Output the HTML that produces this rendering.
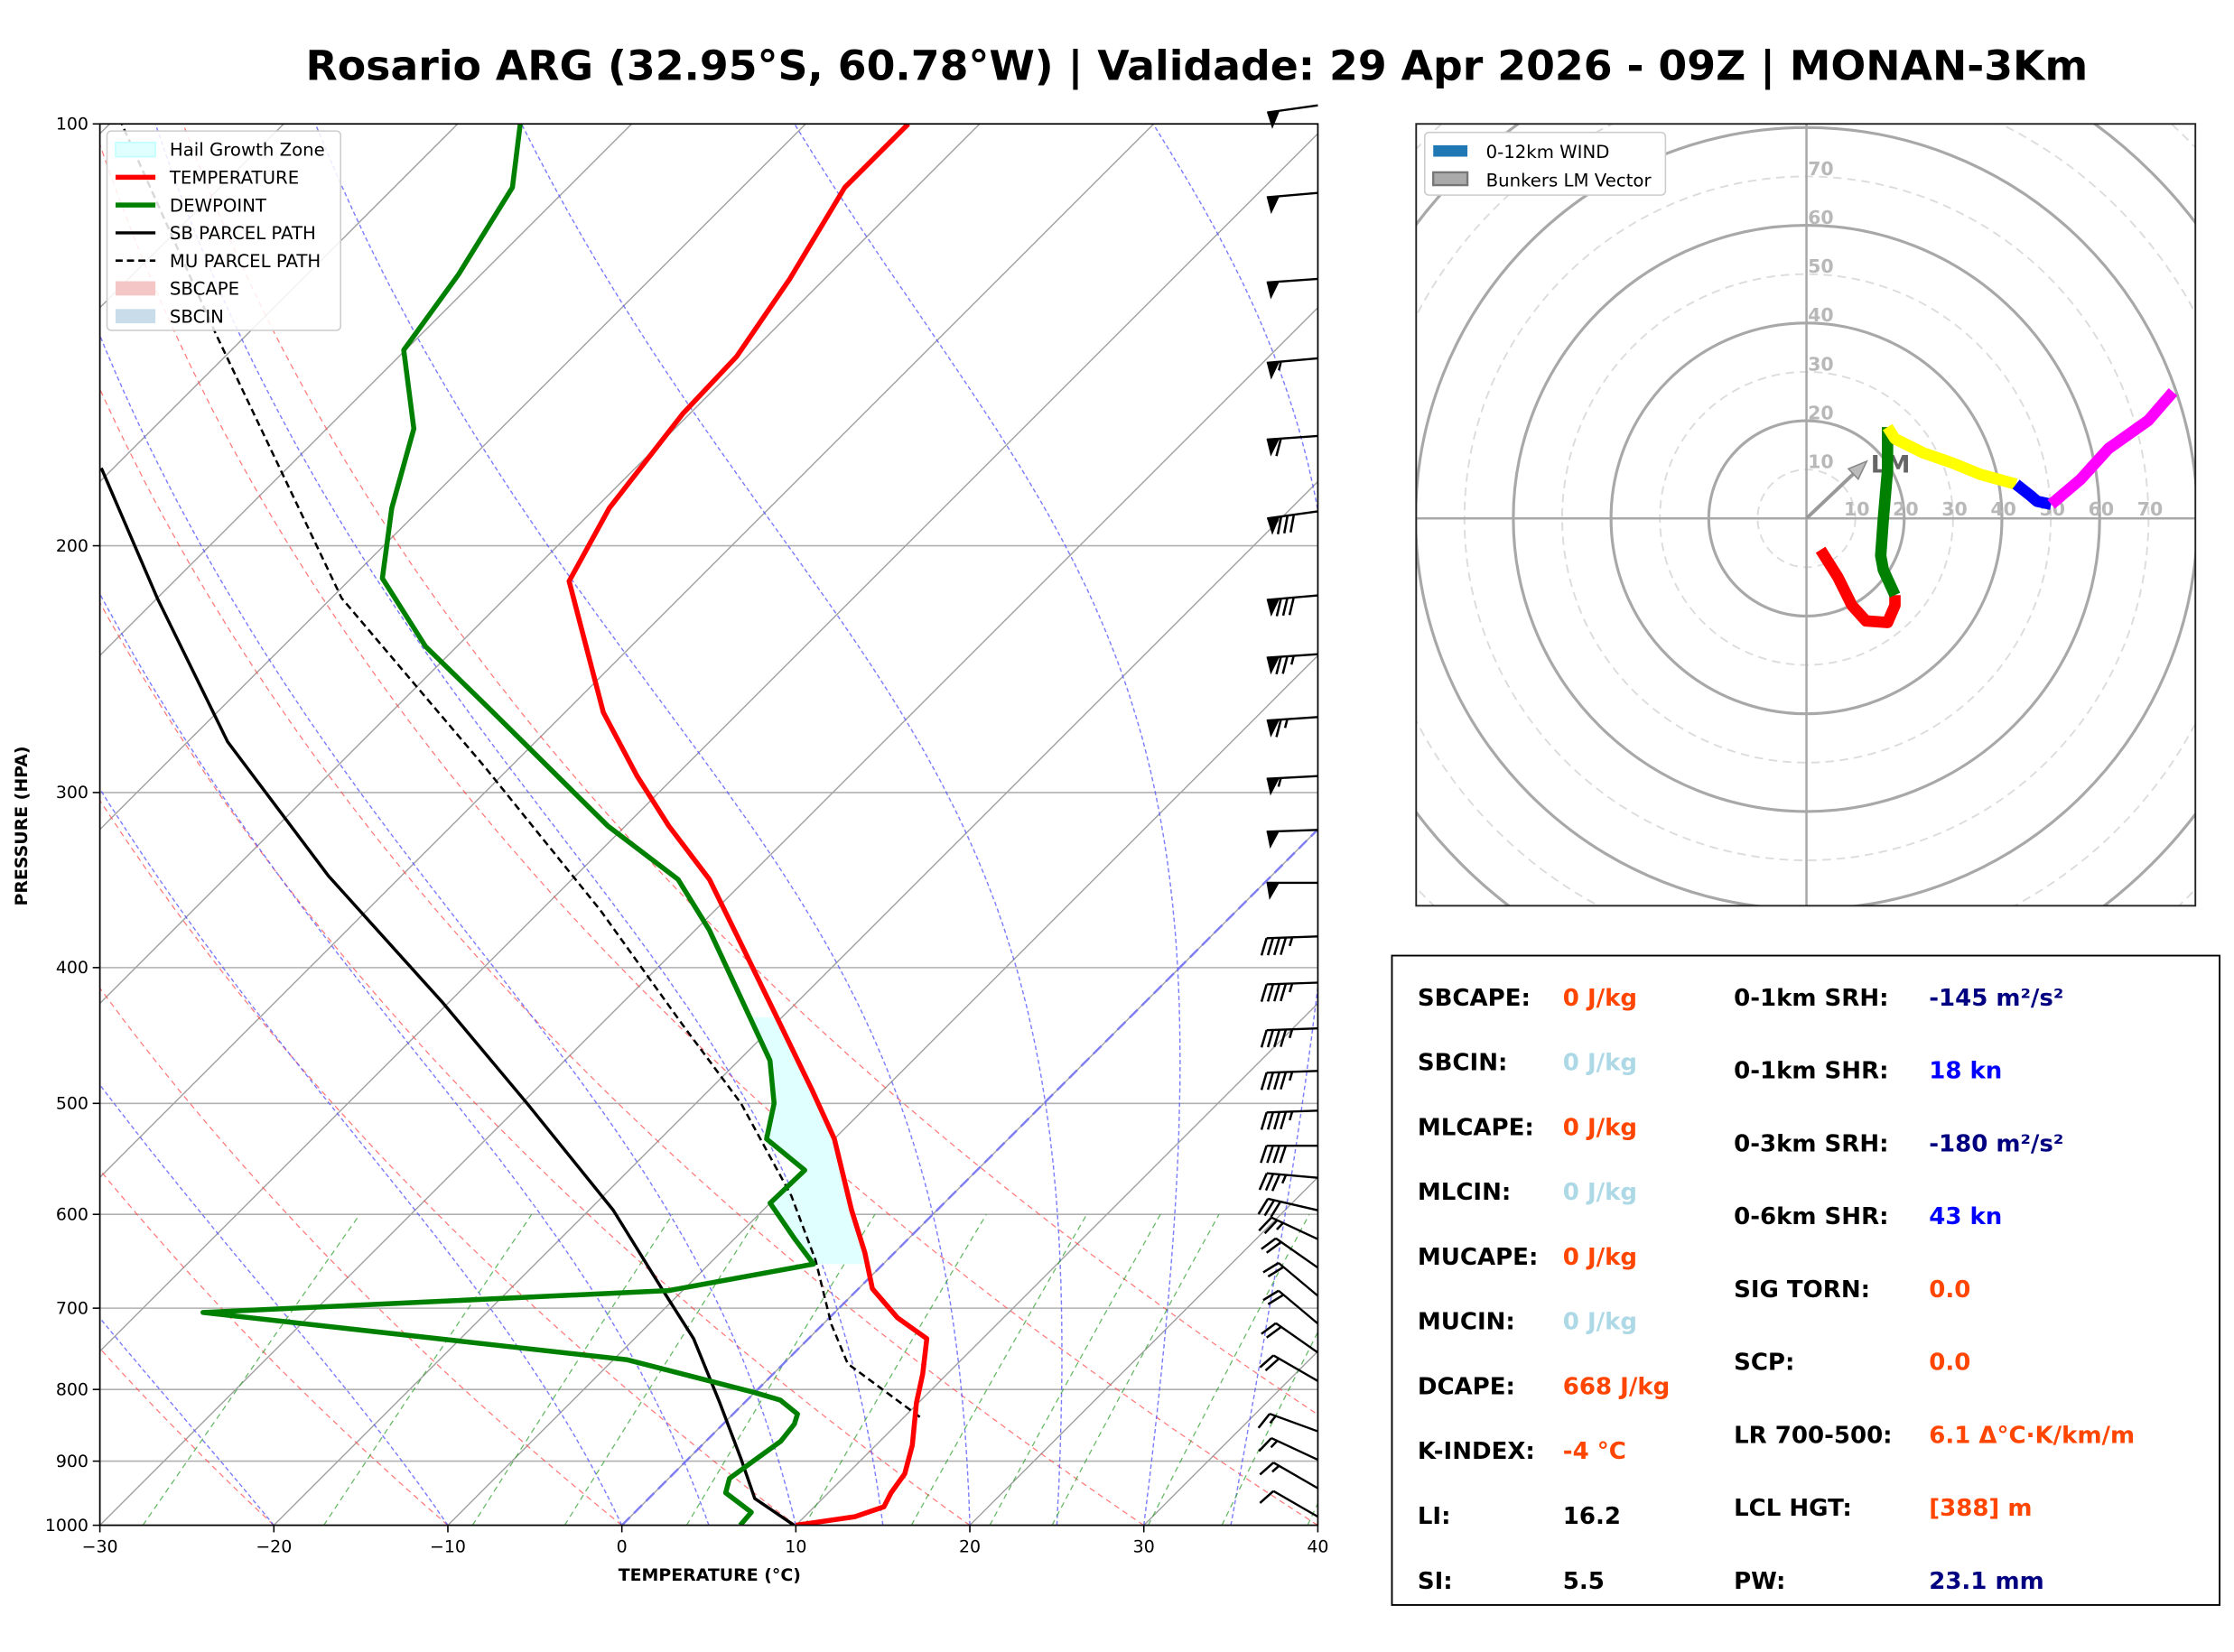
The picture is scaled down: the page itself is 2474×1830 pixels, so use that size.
<!DOCTYPE html>
<html><head><meta charset="utf-8"><style>
html,body{margin:0;padding:0;background:#fff;}
svg{display:block;font-family:"DejaVu Sans","Liberation Sans",sans-serif;}
</style></head><body>
<svg id="fig" width="2474" height="1830" viewBox="0 0 1568 1160" xmlns="http://www.w3.org/2000/svg">
<rect x="0" y="0" width="1568" height="1160" fill="#fff"/>
<text x="840" y="56" font-size="29" font-weight="bold" text-anchor="middle">Rosario ARG (32.95°S, 60.78°W) | Validade: 29 Apr 2026 - 09Z | MONAN-3Km</text>
<defs>
<clipPath id="skclip"><rect x="70" y="87" width="855" height="984"/></clipPath>
<clipPath id="hoclip"><rect x="994" y="87" width="547" height="549"/></clipPath>
</defs>
<g id="skew"></g>
<g id="hodo"></g>
<g id="idx"></g>
</svg>
<script>
// ---- Sounding data ----
const tempP=[1000,986,970,948,919,877,818,780,736,711,678,639,596,530,489,434,386,346,317,292,263,212,188,161,146.5,129,111,100];
const tempT=[10.0,12.9,14.0,13.6,13.3,12.1,9.9,8.6,6.8,3.9,0.8,-1.7,-4.9,-10.0,-14.1,-20.3,-26.4,-32.1,-37.5,-42.2,-47.8,-57.3,-59.2,-60.4,-60.6,-62.0,-64.1,-64.1];
const dewP=[1000,979,948,926,898,871,847,833,814,804,762,705,680,651,625,589,558,530,500,466,376,346,317,262,236,211,188,165,145,128,111,100];
const dewT=[6.8,6.7,4.1,3.5,3.9,4.3,4.1,3.7,1.9,0.0,-9.2,-36.3,-10.8,-4.0,-6.5,-10.0,-9.9,-13.9,-15.5,-18.2,-29.2,-33.9,-41.0,-54.4,-61.8,-68.2,-71.7,-75.0,-80.1,-81.3,-83.2,-86.4];
const sbP=[1000,957,898,818,736,678,596,500,424,344,276,218,176];
const sbT=[9.9,6.1,3.1,-1.4,-6.6,-11.3,-18.6,-29.7,-40.3,-54.2,-67.7,-80.0,-90.7];
const muP=[837,767,719,647,582,500,440,364,288,218,141,100];
const muT=[10.9,3.7,0.5,-4.1,-9.2,-17.4,-25.2,-36.6,-51.4,-69.4,-91.9,-109.3];
const hailTop=434, hailBot=651;
// wind barbs
const barbP=[97,112,129,147,167,189,217,239,265,292,319,348,380,410,442,474,506,536,565,596,625,655,686,718,753,789,857,898,941,986];
const barbSpd=[50,50,50,55,60,80,80,75,65,55,50,50,45,45,45,45,45,40,35,30,25,20,20,20,20,20,15,15,15,10];
const barbDir=[262,265,266,265,266,262,265,266,266,267,268,270,268,268,268,268,268,270,275,283,295,305,310,310,305,300,290,295,300,300];
// hodograph segments (knots)
const hodoRedU=[2.9,6.4,9.3,12.2,16.6,18.1,18.1];
const hodoRedV=[-6.4,-12,-17.8,-21,-21.3,-17.8,-15.7];
const hodoGreenU=[18.1,15.7,15.2,15.7,16.6,16.6];
const hodoGreenV=[-15.7,-10.5,-7.6,-0.3,9.9,18.7];
const hodoYellowU=[16.6,18.1,23.9,29.7,35.6,42.9];
const hodoYellowV=[18.7,16.3,13.4,11.4,9,7];
const hodoBlueU=[42.9,45.8,47.2,50.1];
const hodoBlueV=[7,4.7,3.5,2.9];
const hodoMagU=[50.1,56,61.8,70,75];
const hodoMagV=[2.9,7.9,14.3,20.1,25.9];
const lmU=11.7, lmV=11.1;
const xTicks=[-30,-20,-10,0,10,20,30,40];
const pTicks=[100,200,300,400,500,600,700,800,900,1000];
const pLabels=[100,200,300,400,500,600,700,800,900,1000];

const NS="http://www.w3.org/2000/svg";
function mk(tag,attrs,parent){const e=document.createElementNS(NS,tag);for(const k in attrs)e.setAttribute(k,attrs[k]);parent.appendChild(e);return e;}
const yP=p=>1071-984*Math.log10(1000/p);
const xT=(T,p)=>70+(T+30)*12.214+(1071-yP(p));
function pathFrom(P,T){return P.map((p,i)=>(i?'L':'M')+xT(T[i],p).toFixed(1)+','+yP(p).toFixed(1)).join('');}
function interp(P,T,p){for(let i=0;i<P.length-1;i++){const a=P[i],b=P[i+1];if((p<=a&&p>=b)||(p>=a&&p<=b)){const f=(Math.log(p)-Math.log(a))/(Math.log(b)-Math.log(a));return T[i]+f*(T[i+1]-T[i]);}}return null;}

const sk=document.getElementById('skew');
const bg=mk('g',{'clip-path':'url(#skclip)'},sk);


const plevs=[];for(let p=1000;p>=100;p-=5)plevs.push(p);
pTicks.forEach(p=>{const l=mk('line',{x1:70,x2:925,y1:yP(p),y2:yP(p),stroke:'#b0b0b0','stroke-width':1},bg);});
for(let T=-120;T<=40;T+=10){const l=mk('line',{x1:xT(T,1000),y1:yP(1000),x2:xT(T,100),y2:yP(100),stroke:'#a0a0a0','stroke-width':0.9},bg);}
for(let T0=-40;T0<=50;T0+=10){const TT=plevs.map(p=>(T0+273.15)*Math.pow(p/1000,0.2857)-273.15);const l=mk('path',{d:pathFrom(plevs,TT),fill:'none',stroke:'#ff4040','stroke-width':0.8,'stroke-dasharray':'4,3',opacity:0.7},bg);}
function moist(T0){const out=[];let T=T0;for(let i=0;i<plevs.length;i++){out.push(T);if(i==plevs.length-1)break;const p=plevs[i];const Tk=T+273.15;const es=6.112*Math.exp(17.67*T/(T+243.5));const rs=0.622*es/(p-es);const dTdp=(287*Tk+2.501e6*rs)/(p*(1005+2.501e6*2.501e6*rs*0.622/(287*Tk*Tk)));T+=dTdp*(plevs[i+1]-p);}return out;}
[-30,-20,-10,0,5,10,15,20,25,30,35,40].forEach(T0=>{const l=mk('path',{d:pathFrom(plevs,moist(T0)),fill:'none',stroke:'#5050ff','stroke-width':0.9,'stroke-dasharray':'3,2',opacity:0.75},bg);});
const mp=[];for(let p=1000;p>=600;p-=10)mp.push(p);
[0.4,1,2,3,5,8,12,16,20,28,36,48].forEach(w=>{const TT=mp.map(p=>{const e=w*p/(622+w);const L=Math.log(e/6.112);return 243.5*L/(17.67-L);});const l=mk('path',{d:pathFrom(mp,TT),fill:'none',stroke:'#30a030','stroke-width':0.8,'stroke-dasharray':'4,3',opacity:0.75},bg);});
{const l=mk('line',{x1:xT(0,1000),y1:yP(1000),x2:xT(0,100),y2:yP(100),stroke:'#7070ff','stroke-width':1.6,'stroke-dasharray':'8,4',opacity:0.8},bg);}
{const ps=[];for(let p=hailBot;p>=hailTop;p-=3)ps.push(p);ps.push(hailTop);
const a=ps.map(p=>xT(interp(tempP,tempT,p),p).toFixed(1)+','+yP(p).toFixed(1));
const b=ps.slice().reverse().map(p=>xT(interp(dewP,dewT,p),p).toFixed(1)+','+yP(p).toFixed(1));
const h=mk('polygon',{points:a.concat(b).join(' '),fill:'#e0ffff',stroke:'none'},bg);}
const pr=mk('g',{'clip-path':'url(#skclip)'},sk);
{let l=mk('path',{d:pathFrom(sbP,sbT),fill:'none',stroke:'#000','stroke-width':2.2,'stroke-linejoin':'round'},pr);
l=mk('path',{d:pathFrom(muP,muT),fill:'none',stroke:'#000','stroke-width':1.6,'stroke-dasharray':'5,3'},pr);
l=mk('path',{d:pathFrom(dewP,dewT),fill:'none',stroke:'#008000','stroke-width':3.5,'stroke-linejoin':'round'},pr);
l=mk('path',{d:pathFrom(tempP,tempT),fill:'none',stroke:'#ff0000','stroke-width':3.5,'stroke-linejoin':'round'},pr);}
barbP.forEach((p,i)=>{const g=mk('g',{},sk);
const d=barbDir[i]*Math.PI/180;const dx=Math.sin(d),dy=-Math.cos(d);const L=36;const sx=925,sy=yP(p);const ex=sx+dx*L,ey=sy+dy*L;
mk('line',{x1:sx,y1:sy,x2:ex,y2:ey,stroke:'#000','stroke-width':1.5},g);
let nx=-dy,ny=dx;if(ny<0){nx=-nx;ny=-ny;}
let s=Math.round(barbSpd[i]/5)*5;let pos=0;const fl=12;
while(s>=50){const x1=ex-dx*pos,y1=ey-dy*pos,x2=ex-dx*(pos+9),y2=ey-dy*(pos+9);const tx=x1+nx*fl-dx*2,ty=y1+ny*fl-dy*2;
mk('polygon',{points:`${x1},${y1} ${x2},${y2} ${tx},${ty}`,fill:'#000'},g);pos+=10;s-=50;}
while(s>=10){const x1=ex-dx*pos,y1=ey-dy*pos;mk('line',{x1:x1,y1:y1,x2:x1+nx*fl+dx*4,y2:y1+ny*fl+dy*4,stroke:'#000','stroke-width':1.6},g);pos+=4.5;s-=10;}
if(s>=5){if(pos==0)pos=4;const x1=ex-dx*pos,y1=ey-dy*pos;mk('line',{x1:x1,y1:y1,x2:x1+nx*fl/2+dx*2,y2:y1+ny*fl/2+dy*2,stroke:'#000','stroke-width':1.6},g);}
});
{const f=mk('rect',{x:70,y:87,width:855,height:984,fill:'none',stroke:'#000','stroke-width':1.1},sk);}
xTicks.forEach(T=>{const x=70+(T+30)*12.214;mk('line',{x1:x,x2:x,y1:1071,y2:1076,stroke:'#000'},sk);const t=mk('text',{x:x,y:1090,'font-size':12,'text-anchor':'middle'},sk);t.textContent=(T<0?'\u2212'+(-T):T);});
pLabels.forEach(p=>{const y=yP(p);mk('line',{x1:65,x2:70,y1:y,y2:y,stroke:'#000'},sk);const t=mk('text',{x:62,y:y+4,'font-size':12,'text-anchor':'end'},sk);t.textContent=p;});
{let t=mk('text',{x:498,y:1110,'font-size':12,'font-weight':'bold','text-anchor':'middle'},sk);t.textContent='TEMPERATURE (°C)';
t=mk('text',{x:19,y:580,'font-size':12,'font-weight':'bold','text-anchor':'middle',transform:'rotate(-90 19 580)'},sk);t.textContent='PRESSURE (HPA)';}
{const lg=mk('g',{},sk);
mk('rect',{x:75,y:92,width:164,height:140,rx:3,fill:'#fff','fill-opacity':0.85,stroke:'#ccc'},lg);
const items=[['Hail Growth Zone','patch','#e0ffff','#c0ffff'],['TEMPERATURE','line','#ff0000',3.5],['DEWPOINT','line','#008000',3.5],['SB PARCEL PATH','line','#000',2.2],['MU PARCEL PATH','dash','#000',1.6],['SBCAPE','patch','#f5c6c6','none'],['SBCIN','patch','#c8dcea','none']];
items.forEach((it,i)=>{const y=105+i*19.5;const e=mk('g',{},lg);
if(it[1]=='patch')mk('rect',{x:81,y:y-5,width:28,height:10,fill:it[2],stroke:it[3]},e);
else mk('line',{x1:81,x2:109,y1:y,y2:y,stroke:it[2],'stroke-width':it[3],'stroke-dasharray':it[1]=='dash'?'5,3':'none'},e);
const t=mk('text',{x:119,y:y+4.5,'font-size':12.5},e);t.textContent=it[0];});}

// ---- Hodograph ----
const ho=document.getElementById('hodo');
const hx=u=>1268+u*3.43, hy=v=>364-v*3.43;
const hc=mk('g',{'clip-path':'url(#hoclip)'},ho);
for(let r=10;r<=120;r+=10){const c=mk('circle',{cx:1268,cy:364,r:r*3.43,fill:'none',stroke:(r%20==0)?'#a8a8a8':'#dcdcdc','stroke-width':(r%20==0)?2:1.2,'stroke-dasharray':(r%20==0)?'none':'6,4'},hc);}
mk('line',{x1:994,x2:1541,y1:364,y2:364,stroke:'#a8a8a8','stroke-width':1.6},hc);
mk('line',{x1:1268,x2:1268,y1:87,y2:636,stroke:'#a8a8a8','stroke-width':1.6},hc);
for(let k=10;k<=70;k+=10){let t=mk('text',{x:hx(k)-8,y:362,'font-size':13,'font-weight':'bold',fill:'#b8b8b8'},hc);t.textContent=k;
t=mk('text',{x:1269,y:hy(k)-1,'font-size':13,'font-weight':'bold',fill:'#b8b8b8'},hc);t.textContent=k;}
{const ax=hx(lmU),ay=hy(lmV);const g=mk('g',{},hc);
mk('line',{x1:1268,y1:364,x2:ax,y2:ay,stroke:'#999','stroke-width':2.5},g);
const ang=Math.atan2(ay-364,ax-1268);const p1=[ax+Math.cos(ang)*3,ay+Math.sin(ang)*3],b1=[ax-Math.cos(ang)*10+Math.sin(ang)*5,ay-Math.sin(ang)*10-Math.cos(ang)*5],b2=[ax-Math.cos(ang)*10-Math.sin(ang)*5,ay-Math.sin(ang)*10+Math.cos(ang)*5];
mk('polygon',{points:`${p1} ${b1} ${b2}`,fill:'#bbb',stroke:'#888','stroke-width':1},g);
const t=mk('text',{x:ax+5,y:ay+6,'font-size':17,'font-weight':'bold',fill:'#666'},g);t.textContent='LM';}
[[hodoRedU,hodoRedV,'#ff0000','hodo-0-1km'],[hodoGreenU,hodoGreenV,'#008000','hodo-1-3km'],[hodoYellowU,hodoYellowV,'#ffff00','hodo-3-6km'],[hodoBlueU,hodoBlueV,'#0000ff','hodo-6-9km'],[hodoMagU,hodoMagV,'#ff00ff','hodo-9-12km']].forEach(s=>{
const d=s[0].map((u,i)=>(i?'L':'M')+hx(u).toFixed(1)+','+hy(s[1][i]).toFixed(1)).join('');
const l=mk('path',{d:d,fill:'none',stroke:s[2],'stroke-width':8,'stroke-linejoin':'round'},hc);});
{const f=mk('rect',{x:994,y:87,width:547,height:549,fill:'none',stroke:'#222','stroke-width':1.2},ho);
const lg=mk('g',{},ho);
mk('rect',{x:1000,y:93,width:169,height:44,rx:3,fill:'#fff',stroke:'#ccc'},lg);
mk('rect',{x:1006,y:102,width:24,height:8,fill:'#1f77b4'},lg);
mk('rect',{x:1006,y:121,width:24,height:9,fill:'#aaa',stroke:'#777','stroke-width':1.5},lg);
let t=mk('text',{x:1043,y:111,'font-size':12.5},lg);t.textContent='0-12km WIND';
t=mk('text',{x:1043,y:131,'font-size':12.5},lg);t.textContent='Bunkers LM Vector';}

// ---- Indices ----
const ix=document.getElementById('idx');
{const f=mk('rect',{x:977,y:671,width:581,height:456,fill:'#fff',stroke:'#000','stroke-width':1.2},ix);}
const left=[['SBCAPE:','0 J/kg','#ff4500'],['SBCIN:','0 J/kg','#add8e6'],['MLCAPE:','0 J/kg','#ff4500'],['MLCIN:','0 J/kg','#add8e6'],['MUCAPE:','0 J/kg','#ff4500'],['MUCIN:','0 J/kg','#add8e6'],['DCAPE:','668 J/kg','#ff4500'],['K-INDEX:','-4 °C','#ff4500'],['LI:','16.2','#000'],['SI:','5.5','#000']];
const right=[['0-1km SRH:','-145 m²/s²','#000080'],['0-1km SHR:','18 kn','#0000ff'],['0-3km SRH:','-180 m²/s²','#000080'],['0-6km SHR:','43 kn','#0000ff'],['SIG TORN:','0.0','#ff4500'],['SCP:','0.0','#ff4500'],['LR 700-500:','6.1 Δ°C·K/km/m','#ff4500'],['LCL HGT:','[388] m','#ff4500'],['PW:','23.1 mm','#000080']];
left.forEach((r,i)=>{const y=706+i*45.5;const g=mk('g',{},ix);
let t=mk('text',{x:995,y:y,'font-size':16.5,'font-weight':'bold'},g);t.textContent=r[0];
t=mk('text',{x:1097,y:y,'font-size':16.5,'font-weight':'bold',fill:r[2]},g);t.textContent=r[1];});
right.forEach((r,i)=>{const y=706+i*51.2;const g=mk('g',{},ix);
let t=mk('text',{x:1217,y:y,'font-size':16.5,'font-weight':'bold'},g);t.textContent=r[0];
t=mk('text',{x:1354,y:y,'font-size':16.5,'font-weight':'bold',fill:r[2]},g);t.textContent=r[1];});
</script>
</body></html>
